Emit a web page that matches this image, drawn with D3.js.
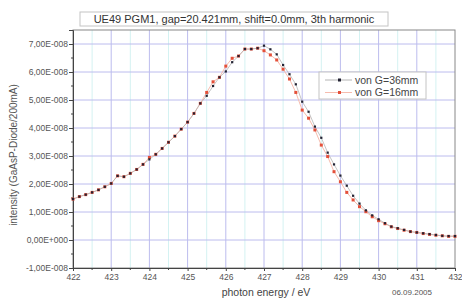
<!DOCTYPE html>
<html><head><meta charset="utf-8">
<script src="https://cdn.jsdelivr.net/npm/d3@7"></script>
<style>
html,body{margin:0;padding:0;background:#fff;}
svg{display:block;font-family:"Liberation Sans",Arial,sans-serif;}
</style></head>
<body><svg id="c" width="462" height="298"></svg>
<script>
const titleText = "UE49 PGM1, gap=20.421mm, shift=0.0mm, 3th harmonic";
const xTitle = "photon energy / eV";
const yTitle = "intensity (GaAsP-Diode/200mA)";
const dateText = "06.09.2005";
const seriesNames = ["von G=36mm", "von G=16mm"];
const xTicks = [422,423,424,425,426,427,428,429,430,431,432];
const yTicks = [-1,0,1,2,3,4,5,6,7];
const yTickLabels = ["-1,00E-008","0,00E+000","1,00E-008","2,00E-008","3,00E-008","4,00E-008","5,00E-008","6,00E-008","7,00E-008"];
// photon energy (eV)
const energy = [422,422.167,422.333,422.5,422.667,422.833,
423,423.167,423.333,423.5,423.667,423.833,
424,424.167,424.333,424.5,424.667,424.833,
425,425.167,425.333,425.5,425.667,425.833,
426,426.167,426.333,426.5,426.667,426.833,
427,427.167,427.333,427.5,427.667,427.833,
428,428.167,428.333,428.5,428.667,428.833,
429,429.167,429.333,429.5,429.667,429.833,
430,430.167,430.333,430.5,430.667,430.833,
431,431.167,431.333,431.5,431.667,431.833,432];
// intensity in units of 1e-8
const g36 = [1.46,1.55,1.62,1.70,1.79,1.90,2.02,2.29,2.26,2.38,2.52,2.70,2.88,3.06,3.27,3.49,3.71,3.96,4.21,4.52,4.88,5.15,5.50,5.81,6.02,6.35,6.57,6.82,6.82,6.85,6.94,6.81,6.63,6.25,5.92,5.56,4.94,4.58,4.05,3.65,3.12,2.70,2.30,1.94,1.58,1.30,1.06,0.88,0.74,0.60,0.48,0.42,0.36,0.30,0.27,0.24,0.21,0.18,0.15,0.14,0.14];
const g16 = [1.46,1.55,1.62,1.70,1.79,1.90,2.02,2.29,2.26,2.38,2.52,2.70,2.95,3.06,3.27,3.49,3.71,3.96,4.21,4.52,4.88,5.27,5.65,5.81,6.21,6.49,6.57,6.82,6.82,6.85,6.76,6.61,6.43,6.10,5.75,5.27,4.64,4.35,3.93,3.39,2.98,2.44,2.08,1.70,1.43,1.19,1.01,0.83,0.69,0.58,0.47,0.41,0.35,0.30,0.27,0.23,0.20,0.17,0.15,0.13,0.13];

const svg = d3.select("#c");
const L=73, R=455, T=30, B=268;
const x = d3.scaleLinear().domain([422,432]).range([L,R]);
const y = d3.scaleLinear().domain([-1,7.5]).range([B,T]);

// grid
const g = svg.append("g");
g.selectAll(".vmin").data(d3.range(422.5,432,1)).enter().append("line")
 .attr("x1",d=>x(d)).attr("x2",d=>x(d)).attr("y1",T).attr("y2",B)
 .attr("stroke","#d4f2f2").attr("stroke-width",1);
g.selectAll(".vmaj").data(xTicks.slice(1,-1)).enter().append("line")
 .attr("x1",d=>x(d)).attr("x2",d=>x(d)).attr("y1",T).attr("y2",B)
 .attr("stroke","#bcbcee").attr("stroke-width",1);
g.selectAll(".hmaj").data(yTicks.slice(1)).enter().append("line")
 .attr("x1",L).attr("x2",R).attr("y1",d=>y(d)).attr("y2",d=>y(d))
 .attr("stroke","#bcbcee").attr("stroke-width",1);

// frame
svg.append("rect").attr("x",L).attr("y",T).attr("width",R-L).attr("height",B-T)
 .attr("fill","none").attr("stroke","#888").attr("stroke-width",1);

// axes
const xAxis = svg.append("g").attr("transform",`translate(0,${B})`)
 .call(d3.axisBottom(x).tickValues(xTicks).tickSize(3).tickPadding(3).tickFormat(d3.format("d")));
const yAxis = svg.append("g").attr("transform",`translate(${L},0)`)
 .call(d3.axisLeft(y).tickValues(yTicks).tickSize(4).tickPadding(1).tickFormat((d,i)=>yTickLabels[i]));
[xAxis,yAxis].forEach(a=>{
  a.select(".domain").attr("stroke","#444");
  a.selectAll(".tick line").attr("stroke","#444");
  a.selectAll("text").attr("fill","#555").style("font-size","8.5px").style("font-family","'Liberation Sans',Arial,sans-serif");
});
// minor ticks
svg.append("g").selectAll("line").data(d3.range(422.5,432,1)).enter().append("line")
 .attr("x1",d=>x(d)).attr("x2",d=>x(d)).attr("y1",B).attr("y2",B+2).attr("stroke","#444");
svg.append("g").selectAll("line").data(d3.range(-0.5,7.5,1)).enter().append("line")
 .attr("x1",L-2).attr("x2",L).attr("y1",d=>y(d)).attr("y2",d=>y(d)).attr("stroke","#444");

// series
const line = d3.line().x((d,i)=>x(energy[i])).y(d=>y(d));
svg.append("path").datum(g16).attr("d",line).attr("fill","none").attr("stroke","#f6bcae").attr("stroke-width",1);
svg.append("path").datum(g36).attr("d",line).attr("fill","none").attr("stroke","#b4b4b4").attr("stroke-width",0.8);
svg.append("g").selectAll("rect").data(g16).enter().append("rect")
 .attr("x",(d,i)=>x(energy[i])-1.5).attr("y",d=>y(d)-1.5).attr("width",3).attr("height",3).attr("fill","#e4503a");
svg.append("g").selectAll("rect").data(g36).enter().append("rect")
 .attr("x",(d,i)=>x(energy[i])-1.1).attr("y",d=>y(d)-1.1).attr("width",2.2).attr("height",2.2).attr("fill","#222233");

// legend
const lg = svg.append("g");
lg.append("rect").attr("x",319).attr("y",72).attr("width",107).attr("height",27)
 .attr("fill","#fff").attr("stroke","#c4c4c4").attr("stroke-width",1);
const legColors = [["#b4b4b4","#222233"],["#f6bcae","#e4503a"]];
seriesNames.forEach((n,i)=>{
  const yy = 80 + i*12.5;
  lg.append("line").attr("x1",325).attr("x2",352).attr("y1",yy).attr("y2",yy).attr("stroke",legColors[i][0]).attr("stroke-width",1);
  lg.append("rect").attr("x",338).attr("y",yy-1.5).attr("width",3).attr("height",3).attr("fill",legColors[i][1]);
  lg.append("text").attr("x",355).attr("y",yy+3.5).text(n).attr("fill","#444").style("font-size","10.5px");
});

// title box
svg.append("rect").attr("x",80).attr("y",12).attr("width",308).attr("height",14)
 .attr("fill","#fff").attr("stroke","#c4c4c4").attr("stroke-width",1);
svg.append("text").attr("x",234).attr("y",23).attr("text-anchor","middle").text(titleText)
 .attr("fill","#333").style("font-size","11px");

// axis titles
svg.append("text").attr("x",266).attr("y",296).attr("text-anchor","middle").text(xTitle)
 .attr("fill","#444").style("font-size","10.5px");
svg.append("text").attr("x",412).attr("y",295).attr("text-anchor","middle").text(dateText)
 .attr("fill","#555").style("font-size","8px");
svg.append("text").attr("transform","translate(17,155) rotate(-90)").attr("text-anchor","middle").text(yTitle)
 .attr("fill","#555").style("font-size","10px");
</script></body></html>
